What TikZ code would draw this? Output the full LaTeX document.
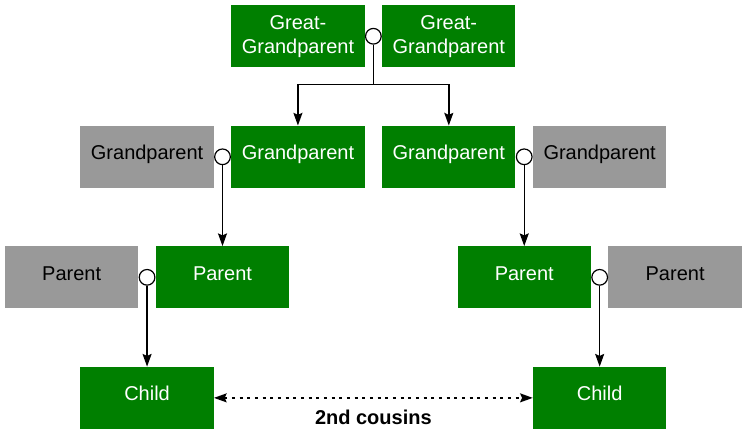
\documentclass[tikz,border=0pt]{standalone}
\usepackage{fontspec}
\setmainfont{Liberation Sans}
\usetikzlibrary{positioning,calc,arrows.meta}
\definecolor{famgreen}{HTML}{007F00}
\definecolor{famgray}{HTML}{999999}
\tikzset{
	person/.style={minimum width=100pt, minimum height=46.5pt, inner sep=0pt, align=center, font=\fontsize{15pt}{18pt}\selectfont},
	oneline/.style={text height=0.75em, text depth=0.3em},
	blood/.style={person, fill=famgreen, text=white},
	inlaw/.style={person, oneline, fill=famgray, text=black},
	union/.style={circle, draw, fill=white, minimum size=11.75pt, inner sep=0pt, line width=0.9pt},
	tip/.style={Stealth[length=9.5pt, width=6.75pt, inset=1.5pt]},
	descent/.style={line width=1.1pt, -{Stealth[length=9.5pt, width=6.75pt, inset=1.5pt]}},
	cousin/.style={line width=1.1pt, dash pattern=on 2.25pt off 3.5pt, {Stealth[length=9.5pt, width=6.75pt, inset=1.5pt]}-{Stealth[length=9.5pt, width=6.75pt, inset=1.5pt]}},
}

\begin{document}
\begin{tikzpicture}[node distance=43.5pt and 12.75pt]
	\node[blood] (ggL) {Great-\\Grandparent};
	\node[blood, right=of ggL] (ggR) {Great-\\Grandparent};
	\node[blood, oneline, below=of ggL] (gpL) {Grandparent};
	\node[blood, oneline, below=of ggR] (gpR) {Grandparent};
	\node[inlaw, left=of gpL] (gpLL) {Grandparent};
	\node[inlaw, right=of gpR] (gpRR) {Grandparent};

	\useasboundingbox ([shift={(-173.25pt,3.75pt)}]ggL.north west) rectangle ([shift={(385.5pt,-321.75pt)}]ggL.north west);

	\node[union] (ggC) at ($(ggL.east)!0.5!(ggR.west)$) {};
	\node[union] (gpCL) at ($(gpLL.east)!0.5!(gpL.west)$) {};
	\node[union] (gpCR) at ($(gpR.east)!0.5!(gpRR.west)$) {};

	\coordinate (pLtop) at (gpCL |- gpL.south);
	\coordinate (pRtop) at (gpCR |- gpR.south);
	\node[blood, oneline, below=of pLtop] (pL) {Parent};
	\node[blood, oneline, below=of pRtop] (pR) {Parent};
	\node[inlaw, left=of pL] (pLL) {Parent};
	\node[inlaw, right=of pR] (pRR) {Parent};
	\node[union] (pCL) at ($(pLL.east)!0.5!(pL.west)$) {};
	\node[union] (pCR) at ($(pR.east)!0.5!(pRR.west)$) {};

	\coordinate (cLtop) at (pCL |- pL.south);
	\coordinate (cRtop) at (pCR |- pR.south);
	\node[blood, oneline, below=of cLtop] (cL) {Child};
	\node[blood, oneline, below=of cRtop] (cR) {Child};

	\coordinate (ggJ) at ($(ggC |- ggL.south)+(0,-12.75pt)$);
	\draw[descent] (ggC.south) -- (ggJ) -| (gpL.north);
	\draw[descent] (ggJ) -| (gpR.north);
	\draw[descent] (gpCL.south) -- (pL.north);
	\draw[descent] (gpCR.south) -- (pR.north);
	\draw[descent] (pCL.south) -- (cL.north);
	\draw[descent] (pCR.south) -- (cR.north);

	\draw[cousin] (cL.east) -- node[below=5.5pt, font=\bfseries\fontsize{15pt}{18pt}\selectfont] (cousinsLbl) {2nd cousins} (cR.west);
\end{tikzpicture}
\end{document}
